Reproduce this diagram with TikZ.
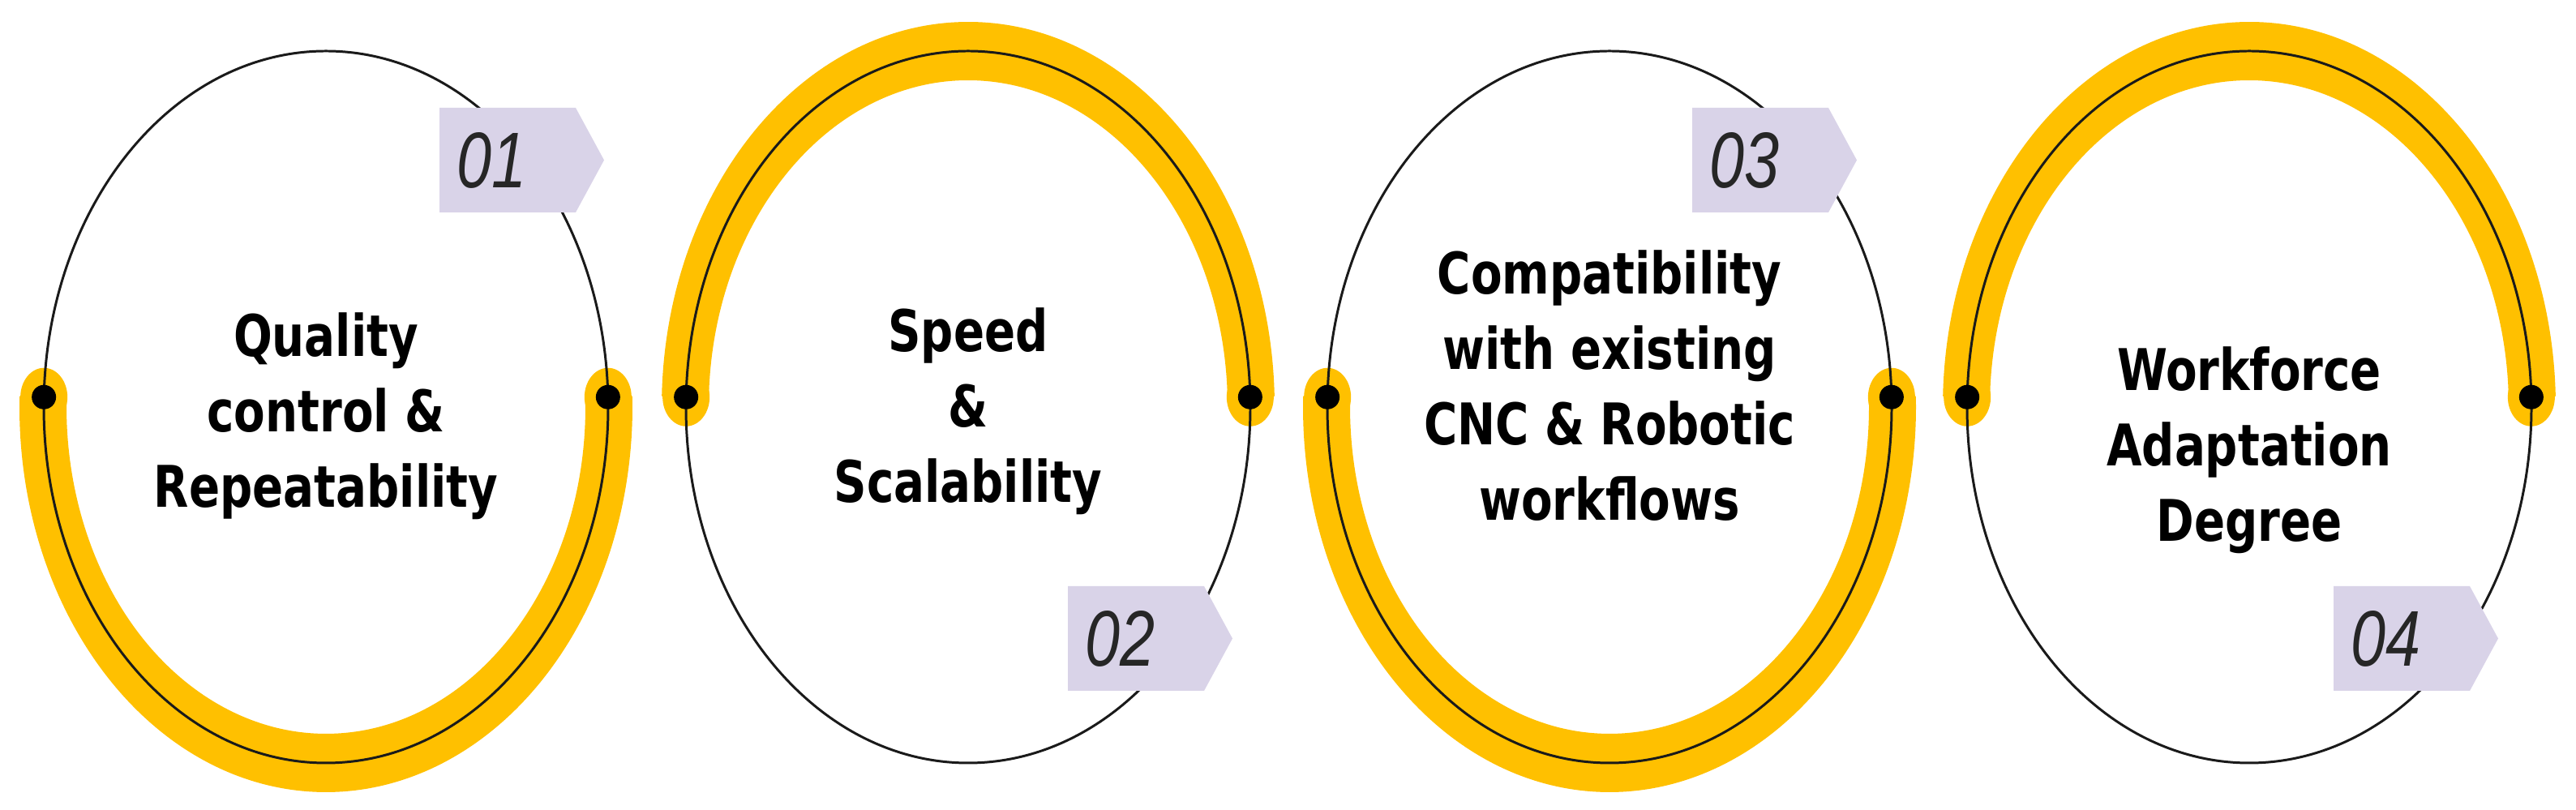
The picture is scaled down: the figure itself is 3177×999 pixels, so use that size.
\documentclass[tikz,border=0pt]{standalone}
\usepackage{fontspec}
\usepackage{graphicx}
\newfontfamily\labfont{DejaVu Sans}
\newfontfamily\tagfont{Liberation Sans}
\definecolor{bandyellow}{HTML}{FFC000}
\definecolor{taglav}{HTML}{D9D3E8}
\definecolor{ringcol}{HTML}{1A1A1A}
\newcommand{\mainlabel}[1]{\scalebox{1}[1.26]{\begin{tabular}{@{}c@{}}#1\end{tabular}}}
\newcommand{\taglabel}[1]{\scalebox{1}[1.26]{#1}}
% band along an ellipse: centre x, start angle, end angle
\newcommand{\yband}[3]{%
  \begin{scope}[shift={(#1,497)}]
    \fill[band] (#2:378 and 475) arc[start angle=#2, end angle=#3, x radius=378, y radius=475]
      -- (#3:320 and 403) arc[start angle=#3, end angle=#2, x radius=320, y radius=403] -- cycle;
    \fill[band] (#2:348 and 439) ellipse[x radius=29, y radius=36];
    \fill[band] (#3:348 and 439) ellipse[x radius=29, y radius=36];
  \end{scope}}
% ring with its two dots: centre x, name prefix
\newcommand{\ringdots}[2]{%
  \draw[ring] (#1,497) ellipse[x radius=348, y radius=439];
  \node[dotnode] (#2l) at ($(#1,497)+(178.4:348 and 439)$) {};
  \node[dotnode] (#2r) at ($(#1,497)+(1.6:348 and 439)$) {};}
% number tag: name, left x, top y, text
\newcommand{\numtag}[4]{%
  \fill[tagbox] (#2,#3) -- ++(168,0) -- ++(35,-64.5) -- ++(-35,-64.5) -- ++(-168,0) -- cycle;
  \node[tagtext] (#1) at (#2+21,#3-64.5) {\taglabel{#4}};}
\usetikzlibrary{calc}
\begin{document}
\begin{tikzpicture}[x=0.02cm,y=0.02cm,
  ring/.style={draw=ringcol, line width=1.7pt},
  band/.style={fill=bandyellow},
  dotnode/.style={circle, fill=black, inner sep=0pt, minimum size=0.6cm},
  tagbox/.style={fill=taglav},
  tagtext/.style={anchor=west, inner sep=0pt, font=\tagfont\itshape\fontsize{44}{44}\selectfont, text=black!85},
  mainlab/.style={inner sep=0pt, font=\labfont\bfseries\fontsize{32}{42}\selectfont, text=black}]

\useasboundingbox (0,0) rectangle (3177,999);

% yellow bands
\yband{402}{178.4}{361.6}
\yband{1194}{1.6}{178.4}
\yband{1985}{178.4}{361.6}
\yband{2774}{1.6}{178.4}

% rings and dots
\ringdots{402}{a}
\ringdots{1194}{b}
\ringdots{1985}{c}
\ringdots{2774}{d}

% number tags
\numtag{t1}{542}{866}{01}
\numtag{t2}{1317}{276}{02}
\numtag{t3}{2087}{866}{03}
\numtag{t4}{2878}{276}{04}

% labels
\node[mainlab] (l1) at (402,485) {\mainlabel{Quality\\control \&\\Repeatability}};
\node[mainlab] (l2) at (1194,491) {\mainlabel{Speed\\\&\\Scalability}};
\node[mainlab] (l3) at (1985,516) {\mainlabel{Compatibility\\with existing\\CNC \& Robotic\\workflows}};
\node[mainlab] (l4) at (2774,443) {\mainlabel{Workforce\\Adaptation\\Degree}};
\end{tikzpicture}
\end{document}
